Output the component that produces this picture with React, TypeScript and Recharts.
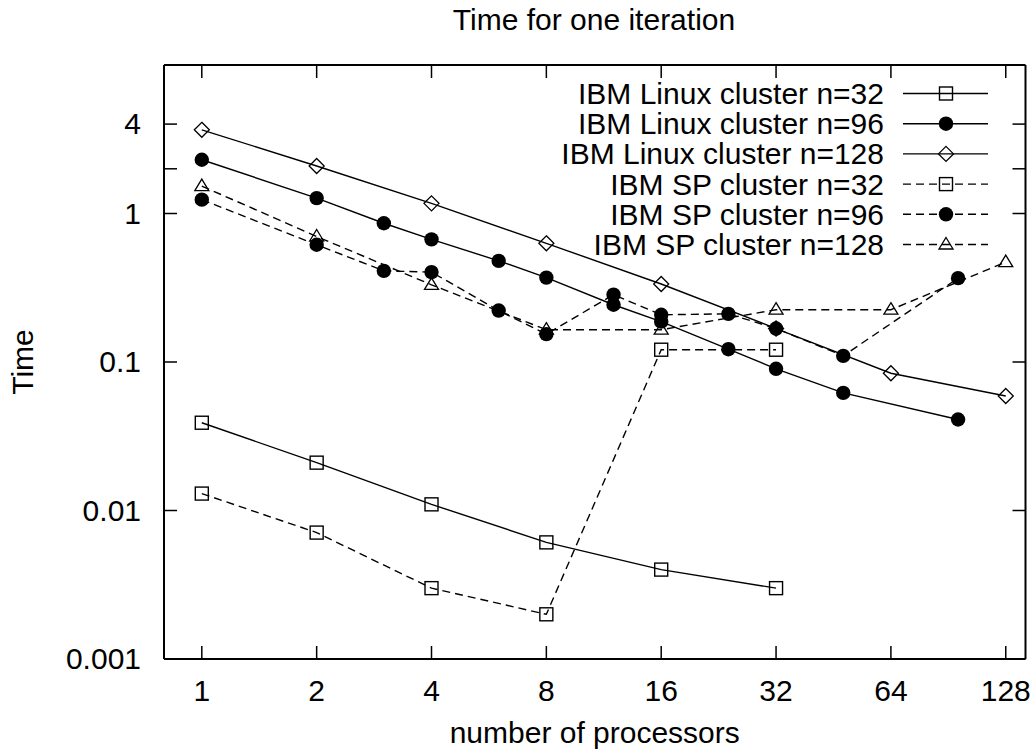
import React from "react";
import { LineChart, Line, XAxis, YAxis, Legend } from "recharts";

// axis ticks
const procTicks = [1, 2, 4, 8, 16, 32, 64, 128];
const timeTicks = [0.001, 0.01, 0.1, 1, 2, 4];

// IBM Linux cluster
const linuxN32Procs = [1, 2, 4, 8, 16, 32];
const linuxN32Time = [0.039, 0.021, 0.011, 0.0061, 0.004, 0.003];

const linuxN96Procs = [1, 2, 3, 4, 6, 8, 12, 16, 24, 32, 48, 96];
const linuxN96Time = [2.3, 1.27, 0.86, 0.67, 0.48, 0.37, 0.243, 0.187, 0.122, 0.09, 0.062, 0.041];

const linuxN128Procs = [1, 2, 4, 8, 16, 32, 64, 128];
const linuxN128Time = [3.66, 2.09, 1.17, 0.63, 0.335, 0.168, 0.084, 0.059];

// IBM SP cluster
const spN32Procs = [1, 2, 4, 8, 16, 32];
const spN32Time = [0.013, 0.0071, 0.003, 0.002, 0.121, 0.121];

const spN96Procs = [1, 2, 3, 4, 6, 8, 12, 16, 24, 32, 48, 96];
const spN96Time = [1.24, 0.616, 0.411, 0.403, 0.222, 0.154, 0.284, 0.208, 0.211, 0.168, 0.11, 0.367];

const spN128Procs = [1, 2, 4, 8, 16, 32, 64, 128];
const spN128Time = [1.53, 0.7, 0.331, 0.165, 0.165, 0.225, 0.225, 0.471];

const FONT = '"Liberation Sans", Arial, Helvetica, sans-serif';
const FS = 30;

type Shape = "square" | "circle" | "diamond" | "triangle";

const series: { name: string; procs: number[]; time: number[]; shape: Shape; dashed: boolean }[] = [
  { name: "IBM Linux cluster n=32", procs: linuxN32Procs, time: linuxN32Time, shape: "square", dashed: false },
  { name: "IBM Linux cluster n=96", procs: linuxN96Procs, time: linuxN96Time, shape: "circle", dashed: false },
  { name: "IBM Linux cluster n=128", procs: linuxN128Procs, time: linuxN128Time, shape: "diamond", dashed: false },
  { name: "IBM SP cluster n=32", procs: spN32Procs, time: spN32Time, shape: "square", dashed: true },
  { name: "IBM SP cluster n=96", procs: spN96Procs, time: spN96Time, shape: "circle", dashed: true },
  { name: "IBM SP cluster n=128", procs: spN128Procs, time: spN128Time, shape: "triangle", dashed: true },
];

const DASH = "8 5";

function Marker({ shape, cx, cy }: { shape: Shape; cx: number; cy: number }) {
  if (shape === "square")
    return <rect x={cx - 6.5} y={cy - 6.5} width={13} height={13} fill="none" stroke="#000" strokeWidth={1.4} />;
  if (shape === "circle") return <circle cx={cx} cy={cy} r={7.2} fill="#000" />;
  if (shape === "diamond")
    return (
      <polygon
        points={`${cx},${cy - 7.5} ${cx + 7.5},${cy} ${cx},${cy + 7.5} ${cx - 7.5},${cy}`}
        fill="none"
        stroke="#000"
        strokeWidth={1.3}
      />
    );
  return (
    <polygon
      points={`${cx},${cy - 7} ${cx + 7},${cy + 4.5} ${cx - 7},${cy + 4.5}`}
      fill="none"
      stroke="#000"
      strokeWidth={1.3}
    />
  );
}

const BottomTick = ({ x, y, payload }: any) => (
  <g>
    <line x1={x} y1={y} x2={x} y2={y - 13} stroke="#000" strokeWidth={1.5} />
    <text x={x} y={y + 42} textAnchor="middle" fontSize={FS} fontFamily={FONT} fill="#000">
      {payload.value}
    </text>
  </g>
);

const TopTick = ({ x, y }: any) => <line x1={x} y1={y} x2={x} y2={y + 13} stroke="#000" strokeWidth={1.5} />;

const LeftTick = ({ x, y, payload }: any) => (
  <g>
    <line x1={x} y1={y} x2={x + 13} y2={y} stroke="#000" strokeWidth={1.5} />
    <text x={x - 23} y={y + 10} textAnchor="end" fontSize={FS} fontFamily={FONT} fill="#000">
      {payload.value === 2 ? "" : String(payload.value)}
    </text>
  </g>
);

const RightTick = ({ x, y }: any) => <line x1={x} y1={y} x2={x - 13} y2={y} stroke="#000" strokeWidth={1.5} />;

const LegendBox = () => (
  <svg width={520} height={200} style={{ display: "block" }}>
    {series.map((s, i) => {
      const cy = 23.5 + i * 30.2;
      return (
        <g key={s.name}>
          <text x={384} y={cy + 10.5} textAnchor="end" fontSize={FS} fontFamily={FONT} fill="#000">
            {s.name}
          </text>
          <line
            x1={403}
            x2={488}
            y1={cy}
            y2={cy}
            stroke="#000"
            strokeWidth={1.4}
            strokeDasharray={s.dashed ? DASH : undefined}
          />
          <Marker shape={s.shape} cx={446} cy={cy} />
        </g>
      );
    })}
  </svg>
);

const frame = { stroke: "#000", strokeWidth: 2 };

export default function App() {
  return (
    <div
      style={{
        position: "absolute",
        left: 0,
        top: 0,
        width: 1034,
        height: 753,
        background: "#fff",
        fontFamily: FONT,
      }}
    >
      <div
        style={{
          position: "absolute",
          left: 594,
          top: 5,
          transform: "translateX(-50%)",
          fontSize: FS,
          lineHeight: 1,
          whiteSpace: "nowrap",
          color: "#000",
        }}
      >
        Time for one iteration
      </div>
      <LineChart width={1034} height={753} margin={{ top: 0, right: 0, bottom: 0, left: 0 }}>
        <XAxis
          xAxisId="b"
          dataKey="x"
          type="number"
          scale="log"
          domain={[0.796, 144.2]}
          allowDataOverflow
          ticks={procTicks}
          height={94}
          tickSize={0}
          tickMargin={0}
          tickLine={false}
          axisLine={frame}
          tick={BottomTick}
          interval={0}
          label={{ value: "number of processors", position: "insideBottom", offset: 10, fontSize: FS, fill: "#000" }}
        />
        <XAxis
          xAxisId="t"
          orientation="top"
          dataKey="x"
          type="number"
          scale="log"
          domain={[0.796, 144.2]}
          allowDataOverflow
          ticks={procTicks}
          height={65}
          tickSize={0}
          tickMargin={0}
          tickLine={false}
          axisLine={frame}
          tick={TopTick}
          interval={0}
        />
        <YAxis
          yAxisId="l"
          type="number"
          scale="log"
          domain={[0.001, 10]}
          allowDataOverflow
          ticks={timeTicks}
          width={164}
          tickSize={0}
          tickMargin={0}
          tickLine={false}
          axisLine={frame}
          tick={LeftTick}
          interval={0}
          label={{
            content: ({ viewBox }: any) => {
              const cx = viewBox.x + 33;
              const cy = viewBox.y + viewBox.height / 2;
              return (
                <text
                  x={cx}
                  y={cy}
                  transform={`rotate(-90 ${cx} ${cy})`}
                  textAnchor="middle"
                  fontSize={FS}
                  fontFamily={FONT}
                  fill="#000"
                >
                  Time
                </text>
              );
            },
          }}
        />
        <YAxis
          yAxisId="r"
          orientation="right"
          type="number"
          scale="log"
          domain={[0.001, 10]}
          allowDataOverflow
          ticks={timeTicks}
          width={8.5}
          tickSize={0}
          tickMargin={0}
          tickLine={false}
          axisLine={frame}
          tick={RightTick}
          interval={0}
        />
        <Legend
          layout="vertical"
          align="center"
          verticalAlign="middle"
          content={LegendBox}
          wrapperStyle={{ left: 500, top: 70, width: 520, height: 200 }}
        />
        {series.map((s) => (
          <Line
            key={s.name}
            xAxisId="b"
            yAxisId="l"
            name={s.name}
            data={s.procs.map((p, i) => ({ x: p, y: s.time[i] }))}
            dataKey="y"
            stroke="#000"
            strokeWidth={1.4}
            strokeDasharray={s.dashed ? DASH : undefined}
            isAnimationActive={false}
            activeDot={false}
            dot={(props: any) => <Marker key={props.index} shape={s.shape} cx={props.cx} cy={props.cy} />}
          />
        ))}
      </LineChart>
    </div>
  );
}
